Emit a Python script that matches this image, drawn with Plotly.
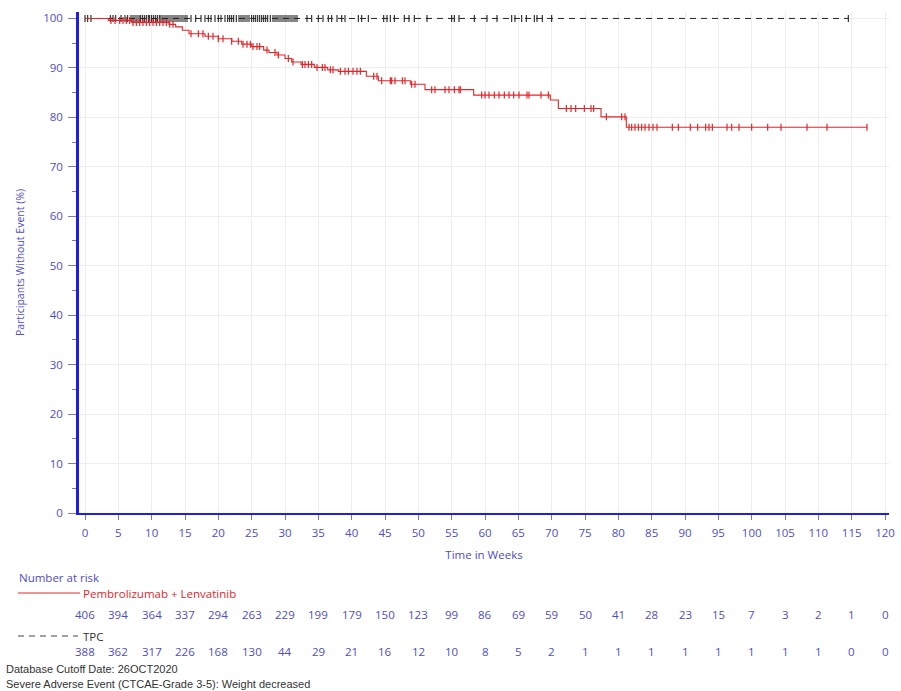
import plotly.graph_objects as go
import bisect

# ---------------- data ----------------
pl_times = [0, 3.5, 7.0, 12.6, 13.6, 14.6, 15.6, 18.0, 20.0, 22.0, 23.5, 25.0, 26.8, 27.6,
            28.8, 30.0, 31.0, 32.4, 34.4, 36.4, 38.0, 42.2, 44.0, 48.8, 51.0, 58.3, 69.8,
            71.0, 77.4, 81.2, 117.3]
pl_surv = [100, 99.6, 99.2, 98.8, 98.3, 97.6, 96.9, 96.4, 95.9, 95.4, 94.8, 94.3, 93.6, 93.1,
           92.6, 91.9, 91.2, 90.7, 90.1, 89.6, 89.3, 88.3, 87.4, 86.7, 85.6, 84.5, 83.5,
           81.8, 80.1, 78.0, 78.0]
pl_censor = [3.9, 4.5, 5.2, 5.7, 6.2, 6.7, 7.2, 7.7, 8.2, 8.7, 9.2, 9.7, 10.2, 10.7, 11.2,
             11.7, 12.2, 12.7, 13.2, 15.9, 17.0, 17.7, 18.5, 19.2, 20.0, 20.7, 22.0, 23.0,
             23.7, 24.3, 24.8, 25.2, 25.8, 26.2, 27.3, 28.5, 29.0, 30.5, 31.2, 32.6, 33.0,
             33.5, 34.0, 34.8, 35.6, 36.0, 36.8, 37.2, 38.3, 39.0, 39.5, 40.2, 40.8, 41.3,
             43.3, 43.8, 44.5, 45.8, 46.0, 46.5, 47.6, 48.0, 49.0, 49.5, 52.0, 52.5, 54.0,
             54.6, 55.4, 56.1, 56.3, 59.5, 60.0, 60.6, 61.4, 62.1, 62.9, 63.6, 64.3, 65.1,
             66.3, 66.6, 68.4, 69.5, 72.2, 72.9, 73.6, 74.9, 75.9, 76.3, 78.2, 80.5, 81.0,
             81.6, 82.0, 82.5, 83.0, 83.5, 84.0, 84.6, 85.2, 85.8, 88.1, 89.0, 90.8, 91.9,
             93.1, 93.6, 94.1, 96.3, 97.0, 98.1, 100.0, 102.4, 104.4, 108.3, 111.3, 117.3]

tpc_times = [0, 114.5]
tpc_surv = [100, 100]
tpc_censor = [0.0, 0.4, 0.9, 3.8, 4.2, 4.6, 5.4, 6.0, 6.4, 6.9, 7.2, 7.5, 7.8, 8.1, 8.3, 8.6,
              8.9, 9.2, 9.5, 9.7, 10.0, 10.3, 10.6, 10.9, 11.2, 11.4, 11.7, 12.0, 12.3, 12.6,
              12.9, 13.2, 13.5, 13.8, 14.1, 14.4, 14.7, 15.0, 15.3, 15.9, 16.6, 17.4, 18.0,
              18.5, 18.9, 19.5, 20.0, 20.4, 21.0, 21.4, 21.7, 22.0, 22.3, 22.7, 23.1, 23.4,
              23.7, 24.0, 24.3, 24.6, 25.0, 25.3, 25.6, 25.9, 26.2, 26.5, 26.8, 27.1, 27.4,
              27.8, 28.2, 28.5, 28.8, 29.1, 29.4, 29.7, 30.0, 30.3, 30.6, 30.9, 31.2, 31.5,
              31.8, 33.3, 34.0, 35.0, 35.7, 36.5, 37.0, 37.8, 38.5, 39.0, 41.0, 41.5, 42.5,
              44.8, 45.3, 45.8, 46.4, 47.9, 48.6, 49.4, 51.3, 55.0, 55.4, 56.1, 58.4, 60.3,
              61.8, 64.0, 64.5, 65.5, 66.2, 67.4, 67.8, 68.6, 70.0, 114.5]

risk_weeks = [0, 5, 10, 15, 20, 25, 30, 35, 40, 45, 50, 55, 60, 65, 70, 75, 80, 85, 90, 95,
              100, 105, 110, 115, 120]
pl_risk = [406, 394, 364, 337, 294, 263, 229, 199, 179, 150, 123, 99, 86, 69, 59, 50, 41, 28,
           23, 15, 7, 3, 2, 1, 0]
tpc_risk = [388, 362, 317, 226, 168, 130, 44, 29, 21, 16, 12, 10, 8, 5, 2, 1, 1, 1, 1, 1, 1,
            1, 1, 0, 0]

pl_name = "Pembrolizumab + Lenvatinib"
tpc_name = "TPC"
x_title = "Time in Weeks"
y_title = "Participants Without Event (%)"
risk_title = "Number at risk"
foot1 = "Database Cutoff Date: 26OCT2020"
foot2 = "Severe Adverse Event (CTCAE-Grade 3-5): Weight decreased"

# ---------------- styling ----------------
RED = "#e4262b"
BLACK = "#222222"
BLUE_TXT = "#4d4dc8"
AXIS_BLUE = "#1e1ee6"
W, H = 901, 691
L, R, T, B = 79, 12, 12, 178
PW, PH = W - L - R, H - T - B


def step_at(times, surv, t):
    i = bisect.bisect_right(times, t) - 1
    return surv[max(i, 0)]


def px2x(px):
    return (px - L) / PW


def py2y(py):
    return (H - B - py) / PH


fig = go.Figure()
fig.add_trace(go.Scatter(x=tpc_times, y=tpc_surv, mode="lines", line_shape="hv",
                         line=dict(color=BLACK, width=1, dash="6px,5px"),
                         hoverinfo="skip", showlegend=False))
fig.add_trace(go.Scatter(x=tpc_censor, y=[step_at(tpc_times, tpc_surv, t) for t in tpc_censor],
                         mode="markers",
                         marker=dict(symbol="line-ns-open", size=5, color=BLACK,
                                     line=dict(width=1.1, color=BLACK)),
                         showlegend=False))
fig.add_trace(go.Scatter(x=pl_times, y=pl_surv, mode="lines", line_shape="hv",
                         line=dict(color=RED, width=1.1), showlegend=False))
fig.add_trace(go.Scatter(x=pl_censor, y=[step_at(pl_times, pl_surv, t) for t in pl_censor],
                         mode="markers",
                         marker=dict(symbol="line-ns-open", size=5, color=RED,
                                     line=dict(width=1.2, color=RED)),
                         showlegend=False))

FS = 11.5
font_ax = dict(family="Open Sans", size=FS, color=BLUE_TXT)

fig.update_xaxes(range=[-0.9, 120.6], tickmode="array", tickvals=risk_weeks,
                 ticks="outside", ticklen=5, tickcolor="#7a7ab8", tickwidth=1,
                 ticklabelstandoff=3,
                 showline=True, linecolor=AXIS_BLUE, linewidth=2.2,
                 showgrid=True, gridcolor="#eeeeee", gridwidth=1, zeroline=False,
                 tickfont=font_ax,
                 title=dict(text=x_title, font=font_ax, standoff=12))
fig.update_yaxes(range=[0, 101.3], tickmode="array", tickvals=list(range(0, 101, 10)),
                 ticks="outside", ticklen=8, tickcolor="#7a7ab8", tickwidth=1,
                 ticklabelstandoff=3,
                 minor=dict(tickvals=list(range(5, 100, 10)), ticks="outside", ticklen=4,
                            tickcolor="#7a7ab8", showgrid=False),
                 showline=True, linecolor=AXIS_BLUE, linewidth=2.6,
                 showgrid=True, gridcolor="#eeeeee", gridwidth=1, zeroline=False,
                 tickfont=font_ax,
                 title=dict(text=y_title, font=dict(family="Open Sans", size=10.5, color=BLUE_TXT),
                            standoff=17))

anns = []
anns.append(dict(x=px2x(17), y=py2y(577), xref="paper", yref="paper", text=risk_title,
                 showarrow=False, xanchor="left", yanchor="middle",
                 font=dict(family="Open Sans", size=11.5, color=BLUE_TXT)))
anns.append(dict(x=px2x(81), y=py2y(593), xref="paper", yref="paper", text=pl_name,
                 showarrow=False, xanchor="left", yanchor="middle",
                 font=dict(family="Open Sans", size=11.5, color=RED)))
anns.append(dict(x=px2x(81), y=py2y(636), xref="paper", yref="paper", text=tpc_name,
                 showarrow=False, xanchor="left", yanchor="middle",
                 font=dict(family="Open Sans", size=11.5, color="#333333")))
for wk, n in zip(risk_weeks, pl_risk):
    anns.append(dict(x=wk, y=py2y(614), xref="x", yref="paper", text=str(n),
                     showarrow=False, xanchor="center", yanchor="middle", font=font_ax))
for wk, n in zip(risk_weeks, tpc_risk):
    anns.append(dict(x=wk, y=py2y(651), xref="x", yref="paper", text=str(n),
                     showarrow=False, xanchor="center", yanchor="middle", font=font_ax))
anns.append(dict(x=px2x(4), y=py2y(669), xref="paper", yref="paper", text=foot1,
                 showarrow=False, xanchor="left", yanchor="middle",
                 font=dict(family="Liberation Sans", size=11, color="#333333")))
anns.append(dict(x=px2x(4), y=py2y(684), xref="paper", yref="paper", text=foot2,
                 showarrow=False, xanchor="left", yanchor="middle",
                 font=dict(family="Liberation Sans", size=11, color="#333333")))

shapes = [
    dict(type="line", xref="paper", yref="paper", x0=px2x(18), x1=px2x(80),
         y0=py2y(593), y1=py2y(593), line=dict(color=RED, width=1)),
    dict(type="line", xref="paper", yref="paper", x0=px2x(18), x1=px2x(78),
         y0=py2y(636), y1=py2y(636), line=dict(color="#444444", width=1, dash="6px,5px")),
]

fig.update_layout(width=W, height=H, margin=dict(l=L, r=R, t=T, b=B, autoexpand=False),
                  plot_bgcolor="white", paper_bgcolor="white",
                  annotations=anns, shapes=shapes, showlegend=False)

fig.write_html("out.html", config={"displayModeBar": False},
               post_script="document.body.style.margin='0';document.body.style.overflow='hidden';")
